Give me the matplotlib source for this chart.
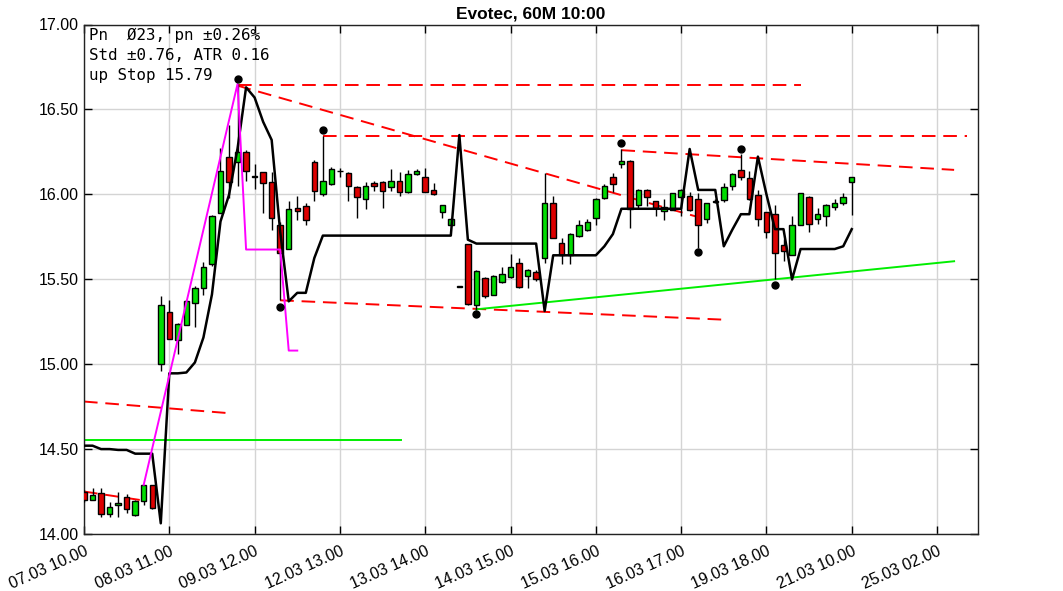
import matplotlib.pyplot as plt
import numpy as np

########## candles (60 min bars) ##########
opens = [14.25, 14.20, 14.24, 14.12, 14.17, 14.215, 14.11, 14.195, 14.287, 15.00,
         15.31, 15.14, 15.23, 15.36, 15.45, 15.59, 15.89, 16.22, 16.19, 16.25,
         16.105, 16.13, 16.075, 15.82, 15.68, 15.92, 15.93, 16.19, 16.00, 16.06,
         16.135, 16.125, 16.045, 15.97, 16.065, 16.075, 16.045, 16.08, 16.015, 16.12,
         16.10, 16.025, 15.895, 15.82, 15.455, 15.705, 15.35, 15.51, 15.41, 15.485,
         15.515, 15.595, 15.52, 15.545, 15.625, 15.95, 15.715, 15.645, 15.755, 15.79,
         15.86, 15.98, 16.10, 16.18, 16.195, 15.94, 16.025, 15.96, 15.90, 15.91,
         15.985, 15.99, 15.975, 15.855, 15.955, 15.965, 16.05, 16.145, 16.095, 15.995,
         15.895, 15.885, 15.70, 15.645, 15.82, 15.985, 15.855, 15.87, 15.925, 15.95,
         16.07]
highs = [14.26, 14.27, 14.27, 14.19, 14.25, 14.235, 14.20, 14.29, 14.29, 15.40,
         15.38, 15.24, 15.38, 15.46, 15.60, 15.88, 16.27, 16.41, 16.65, 16.26,
         16.18, 16.13, 16.13, 15.84, 15.96, 15.99, 15.95, 16.20, 16.345, 16.16,
         16.155, 16.13, 16.05, 16.075, 16.08, 16.08, 16.15, 16.13, 16.145, 16.15,
         16.155, 16.065, 15.94, 15.86, 15.455, 15.705, 15.555, 15.515, 15.525, 15.575,
         15.65, 15.625, 15.56, 15.555, 16.125, 15.99, 15.74, 15.77, 15.85, 15.855,
         15.98, 16.06, 16.125, 16.265, 16.20, 16.03, 16.03, 15.96, 15.97, 16.01,
         16.03, 16.015, 16.005, 15.95, 15.97, 16.065, 16.125, 16.235, 16.14, 16.025,
         15.895, 15.935, 15.735, 15.87, 16.005, 15.99, 15.92, 15.945, 15.97, 16.005,
         16.10]
lows = [14.19, 14.20, 14.10, 14.10, 14.10, 14.125, 14.105, 14.17, 14.15, 14.96,
        15.15, 15.06, 15.23, 15.22, 15.41, 15.58, 15.89, 15.98, 16.05, 16.08,
        16.03, 15.89, 15.79, 15.375, 15.68, 15.85, 15.82, 15.96, 15.99, 16.055,
        16.105, 15.96, 15.86, 15.915, 16.02, 15.92, 16.02, 15.99, 16.01, 16.115,
        16.015, 15.995, 15.86, 15.82, 15.455, 15.35, 15.32, 15.39, 15.41, 15.48,
        15.51, 15.45, 15.45, 15.49, 15.595, 15.74, 15.59, 15.59, 15.75, 15.785,
        15.82, 15.97, 16.015, 16.155, 15.80, 15.915, 15.93, 15.87, 15.85, 15.905,
        15.87, 15.90, 15.685, 15.83, 15.95, 15.955, 16.025, 16.085, 15.965, 15.815,
        15.745, 15.50, 15.61, 15.64, 15.82, 15.78, 15.825, 15.815, 15.905, 15.935,
        15.88]
closes = [14.20, 14.23, 14.12, 14.16, 14.18, 14.15, 14.195, 14.287, 14.155, 15.35,
          15.15, 15.235, 15.37, 15.45, 15.57, 15.87, 16.14, 16.075, 16.25, 16.14,
          16.11, 16.065, 15.86, 15.655, 15.915, 15.90, 15.85, 16.02, 16.08, 16.15,
          16.14, 16.05, 15.985, 16.05, 16.05, 16.02, 16.08, 16.015, 16.12, 16.14,
          16.015, 16.00, 15.94, 15.855, 15.455, 15.355, 15.55, 15.40, 15.52, 15.53,
          15.57, 15.455, 15.555, 15.50, 15.95, 15.745, 15.645, 15.765, 15.82, 15.84,
          15.975, 16.05, 16.06, 16.195, 15.915, 16.025, 15.985, 15.92, 15.925, 16.01,
          16.025, 15.905, 15.82, 15.95, 15.96, 16.045, 16.12, 16.10, 15.97, 15.855,
          15.78, 15.655, 15.665, 15.82, 16.005, 15.825, 15.885, 15.94, 15.95, 15.985,
          16.10]

# black stop line, one value per bar
stop_line = [14.52, 14.52, 14.50, 14.50, 14.495, 14.495, 14.473, 14.473, 14.473, 14.063,
             14.946, 14.946, 14.951, 15.01, 15.157, 15.411, 15.84, 15.997, 16.27, 16.63,
             16.57, 16.427, 16.32, 15.78, 15.37, 15.42, 15.42, 15.625, 15.757, 15.757,
             15.757, 15.757, 15.757, 15.757, 15.757, 15.757, 15.757, 15.757, 15.757, 15.757,
             15.757, 15.757, 15.757, 15.757, 16.349, 15.733, 15.71, 15.71, 15.71, 15.71,
             15.71, 15.71, 15.71, 15.71, 15.313, 15.641, 15.641, 15.641, 15.641, 15.641,
             15.641, 15.694, 15.766, 15.915, 15.915, 15.915, 15.915, 15.915, 15.915, 15.915,
             15.915, 16.267, 16.026, 16.026, 16.026, 15.694, 15.792, 15.883, 15.883, 16.222,
             16.0, 15.795, 15.795, 15.499, 15.678, 15.678, 15.678, 15.678, 15.678, 15.694,
             15.795]

tick_labels = ['07.03 10.00', '08.03 11.00', '09.03 12.00', '12.03 13.00', '13.03 14.00',
               '14.03 15.00', '15.03 16.00', '16.03 17.00', '19.03 18.00', '21.03 10.00',
               '25.03 02.00']

# magenta swing line
swing_x = [7, 18, 19, 23, 24, 25]
swing_y = [14.29, 16.65, 15.675, 15.675, 15.08, 15.08]

# pivot dots
dot_x = [18, 23, 28, 46, 63, 72, 77, 81]
dot_y = [16.677, 15.336, 16.378, 15.294, 16.30, 15.66, 16.265, 15.464]

# red dashed trend lines: (x0, x1), (y0, y1)
red_lines = [((18, 84), (16.645, 16.645)),
             ((18, 72), (16.64, 15.866)),
             ((28, 103.5), (16.345, 16.345)),
             ((23, 75), (15.376, 15.262)),
             ((63, 102), (16.26, 16.144)),
             ((0, 16.6), (14.78, 14.713)),
             ((0, 6.6), (14.25, 14.20))]

# green support lines
green_lines = [((0, 37.2), (14.555, 14.555)),
               ((46, 102), (15.323, 15.606))]

info_lines = ['Pn  Ø23, pn ±0.26%', 'Std ±0.76, ATR 0.16', 'up Stop 15.79']


fig = plt.figure(figsize=(10.63, 5.91), dpi=100)
ax = fig.add_axes([84 / 1063, 57 / 591, 894 / 1063, 509.5 / 591])

idx = np.arange(len(opens))
o = np.array(opens)
c = np.array(closes)
up = c >= o

ax.vlines(idx, lows, highs, color='black', linewidth=1.0, zorder=3)
body_low = np.minimum(o, c)
body_h = np.maximum(np.abs(c - o), 0.004)
ax.bar(idx, body_h, bottom=body_low, width=0.64,
       color=np.where(up, '#00dd00', '#dd0000'), edgecolor='black', linewidth=1.0, zorder=4)

ax.plot(idx, stop_line, color='black', linewidth=1.8, zorder=5)
ax.plot(swing_x, swing_y, color='#ff00ff', linewidth=1.4, zorder=5)

for xs, ys in red_lines:
    ax.plot(xs, ys, color='#ff0000', linewidth=1.4, dashes=(7, 4), zorder=2)
for xs, ys in green_lines:
    ax.plot(xs, ys, color='#00ee00', linewidth=1.4, zorder=2)

ax.plot(dot_x, dot_y, 'o', color='black', markersize=5, zorder=6)

ax.set_xlim(0, 104.8)
ax.set_ylim(14.0, 17.0)
ax.set_yticks(np.arange(14.0, 17.01, 0.5))
ax.set_yticklabels(['%.2f' % v for v in np.arange(14.0, 17.01, 0.5)],
                   family=['Liberation Sans Narrow', 'Liberation Sans'], fontsize=11.5)
ax.set_xticks(np.arange(0, 101, 10))
ax.set_xticklabels(tick_labels, rotation=24, ha='right', rotation_mode='anchor',
                   family=['Liberation Sans Narrow', 'Liberation Sans'], fontsize=11.5)

ax.grid(True, color='#d4d4d4', linewidth=1.0)
ax.set_axisbelow(True)
ax.tick_params(direction='in', length=6, width=1.0, top=True, right=True)
ax.tick_params(axis='x', pad=7)
for s in ax.spines.values():
    s.set_color('#222222')
    s.set_linewidth(1.0)

ax.set_title('Evotec, 60M 10:00', fontweight='bold', fontsize=12.5,
             family='Liberation Sans', pad=4)

for k, line in enumerate(info_lines):
    ax.text(0.006, 0.978 - k * 0.0392, line, transform=ax.transAxes, va='center', ha='left',
            family='DejaVu Sans Mono', fontsize=11.4, zorder=7)

fig.savefig('out.png', dpi=100)
